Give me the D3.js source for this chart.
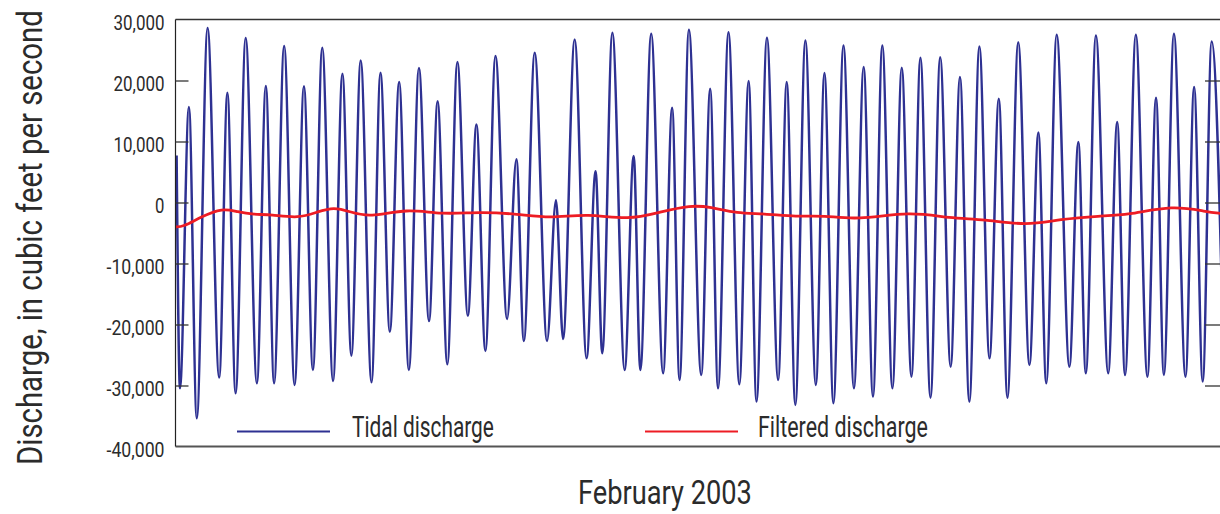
<!DOCTYPE html>
<html><head><meta charset="utf-8">
<script src="https://cdn.jsdelivr.net/npm/d3@7"></script>
<style>
html,body{margin:0;padding:0;background:#fff;}
svg text{font-family:Roboto,"Noto Sans",sans-serif;font-weight:400;fill:#2b2b2b;}
</style></head><body>
<svg id="chart" width="1220" height="514"></svg>
<script>
// Tidal discharge: successive highs and lows (time in days since 1 Feb 2003, cubic feet per second)
const tideDays = [0.03,0.12,0.36,0.57,0.86,1.17,1.39,1.61,1.88,2.18,2.42,2.64,2.91,3.19,3.44,3.68,3.93,4.22,4.47,4.71,
  4.96,5.25,5.49,5.74,5.99,6.25,6.52,6.79,7.02,7.28,7.55,7.83,8.06,8.30,8.57,8.88,9.13,9.33,9.62,9.95,
  10.19,10.38,10.69,11.01,11.25,11.43,11.70,12.03,12.27,12.45,12.74,13.06,13.30,13.50,13.75,14.08,14.32,14.53,14.81,15.10,
  15.35,15.56,15.84,16.14,16.37,16.60,16.87,17.15,17.38,17.62,17.89,18.17,18.43,18.68,18.93,19.20,19.45,19.71,19.95,20.22,
  20.48,20.76,21.01,21.26,21.53,21.80,22.05,22.28,22.57,22.87,23.11,23.32,23.60,23.94,24.18,24.38,24.65,24.98,25.22,25.43,
  25.72,26.03,26.26,26.47,26.74,27.05,27.28,27.51,27.75,28.08];
const tideFlow = [7700,-30450,15650,-35360,28590,-28700,18000,-31270,26950,-29630,19090,-29630,25640,-29900,19040,-27450,25370,-29250,21120,-25110,
  23290,-29470,21280,-21180,19740,-27450,22030,-19430,16580,-26520,23020,-18560,12770,-24340,24000,-19100,7090,-22700,24550,-22700,
  380,-22380,26730,-25540,5120,-24720,27820,-27450,7630,-27450,27660,-28000,15550,-29090,28300,-28270,18660,-30450,27930,-29790,
  19910,-32640,27010,-29090,19740,-33180,26570,-29900,21220,-32900,25750,-30450,22200,-31820,25750,-30450,22100,-28550,23740,-31990,
  23830,-26910,20560,-32640,25590,-25540,17020,-31990,26290,-26640,11460,-29630,27500,-26910,9920,-28000,27390,-28000,13190,-28270,
  27500,-28550,17190,-28270,27660,-28550,18920,-29360,26400,-28500];

// Tidally filtered (net) discharge
const filterDays = [0.0,0.20,0.68,1.26,1.66,2.10,2.55,3.30,3.80,4.24,4.69,5.18,6.21,7.10,8.17,9.15,10.04,11.03,12.14,12.99,
  13.79,14.32,15.04,15.75,16.64,17.36,18.25,19.68,20.75,21.64,22.80,23.69,24.76,25.48,26.72,27.62,28.0];
const filterFlow = [-4000,-4000,-2360,-880,-1540,-1970,-1970,-2620,-1540,-720,-1540,-2450,-990,-1970,-1540,-1860,-2620,-1800,-2900,-1540,
  -440,-720,-1800,-1800,-2360,-2080,-2900,-1420,-2620,-2730,-3830,-2730,-2190,-2080,-440,-1540,-1800];

const yTicks = [30000,20000,10000,0,-10000,-20000,-30000,-40000];
const yTickLabels = ["30,000","20,000","10,000","0","-10,000","-20,000","-30,000","-40,000"];
const seriesNames = ["Tidal discharge","Filtered discharge"];
const seriesColors = ["#2e3192","#ed1c24"];
const xTitle = "February 2003";
const yTitle = "Discharge, in cubic feet per second";

const svg = d3.select("#chart");
const L = 175.5, R = 1221, T = 19.5, B = 446.5;
const x = d3.scaleLinear().domain([0, 28]).range([L, R]);
const y = d3.scaleLinear().domain([-40000, 30000]).range([B, T]);

// condensed lettering: place a text at (tx, ty), rotate it, and squeeze it to width w
function placeText(sel, tx, ty, rot, w) {
  const node = sel.node();
  const natural = node.getComputedTextLength();
  const s = w / natural;
  sel.attr("x", 0).attr("y", 0)
    .attr("transform", `translate(${tx},${ty}) rotate(${rot}) scale(${s},1)`);
}

svg.append("defs").append("clipPath").attr("id","plotclip")
  .append("rect").attr("x", L).attr("y", T).attr("width", R - L).attr("height", B - T);

// data lines
const plot = svg.append("g").attr("clip-path","url(#plotclip)");
const tide = tideDays.map((d,i)=>[d, tideFlow[i]]);
const filt = filterDays.map((d,i)=>[d, filterFlow[i]]);
const line = d3.line().x(d=>x(d[0])).y(d=>y(d[1])).curve(d3.curveMonotoneX);
plot.append("path").datum(tide).attr("d", line)
  .attr("fill","none").attr("stroke", seriesColors[0]).attr("stroke-width", 2.5).attr("stroke-linejoin","round");
plot.append("path").datum(filt).attr("d", d3.line().x(d=>x(d[0])).y(d=>y(d[1])).curve(d3.curveBasis))
  .attr("fill","none").attr("stroke", seriesColors[1]).attr("stroke-width", 2.8);

// frame
svg.append("line").attr("x1", L).attr("x2", R).attr("y1", T).attr("y2", T).attr("stroke","#333").attr("stroke-width",1.3);
svg.append("line").attr("x1", L).attr("x2", R).attr("y1", B).attr("y2", B).attr("stroke","#555").attr("stroke-width",2);
svg.append("line").attr("x1", L).attr("x2", L).attr("y1", T).attr("y2", B).attr("stroke","#222").attr("stroke-width",1.2);

// inward ticks on both sides
const inner = yTicks.slice(1, -1);
const leftTicks = svg.append("g").attr("transform", `translate(${L},0)`)
  .call(d3.axisRight(y).tickValues(inner).tickSize(13).tickFormat(""));
const rightTicks = svg.append("g").attr("transform", `translate(${R - 1},0)`)
  .call(d3.axisLeft(y).tickValues(inner).tickSize(15).tickFormat(""));
[leftTicks, rightTicks].forEach(g => {
  g.select(".domain").remove();
  g.selectAll(".tick line").attr("stroke","#333").attr("stroke-width",1.3);
});

// tick labels
const labels = svg.append("g").attr("transform", `translate(${L},0)`)
  .call(d3.axisLeft(y).tickValues(yTicks).tickSize(0).tickPadding(11)
    .tickFormat((d,i)=>yTickLabels[i]));
labels.select(".domain").remove();
labels.selectAll(".tick text").attr("font-size", 21).attr("dy", null)
  .style("font-family",'Roboto,"Noto Sans",sans-serif').attr("fill","#2b2b2b")
  .each(function(d, i) {
    const s = yTickLabels[i];
    const w = s.replace(/[-,]/g, "").length * 9.4 + (s.match(/,/g) || []).length * 4 + (s[0] === "-" ? 7 : 0);
    placeText(d3.select(this), -11, 10, 0, w);
  });

// legend
const legendX = [237, 645];
const legendTextX = [352, 758];
const legendTextW = [142, 170];
seriesNames.forEach((name, i) => {
  svg.append("line").attr("x1", legendX[i]).attr("x2", legendX[i] + 93).attr("y1", 431.5).attr("y2", 431.5)
    .attr("stroke", seriesColors[i]).attr("stroke-width", 2.2);
  svg.append("text").attr("font-size", 29).text(name)
    .call(placeText, legendTextX[i], 437, 0, legendTextW[i]);
});

// titles
svg.append("text").attr("font-size", 34).text(xTitle).call(placeText, 578, 504, 0, 174);
svg.append("text").attr("font-size", 35).text(yTitle).call(placeText, 42, 465, -90, 455);
</script>
</body></html>
